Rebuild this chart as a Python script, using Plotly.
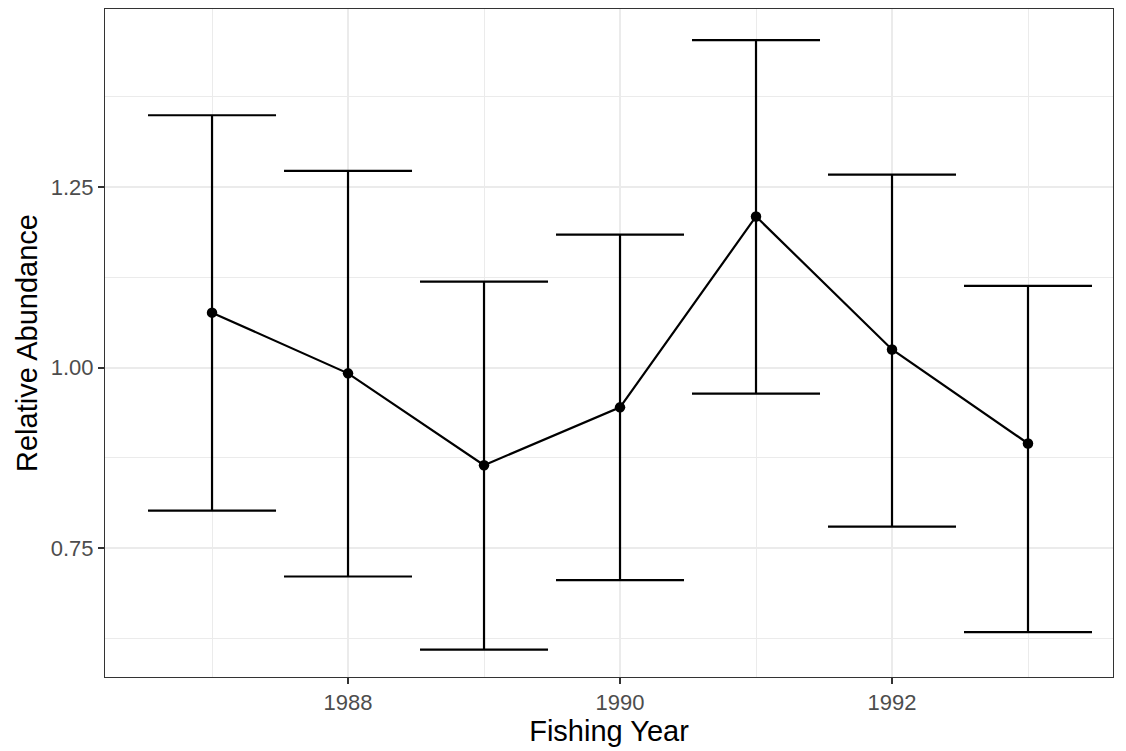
import plotly.graph_objects as go

years = [1987, 1988, 1989, 1990, 1991, 1992, 1993]
abundance = [1.076, 0.992, 0.865, 0.945, 1.209, 1.025, 0.895]
upper = [1.349, 1.272, 1.119, 1.184, 1.453, 1.267, 1.113]
lower = [0.802, 0.711, 0.610, 0.706, 0.964, 0.780, 0.634]

err_plus = [u - a for u, a in zip(upper, abundance)]
err_minus = [a - l for a, l in zip(abundance, lower)]

fig = go.Figure()
fig.add_trace(go.Scatter(
    x=years, y=abundance, mode="lines+markers",
    line=dict(color="black", width=2.2),
    marker=dict(color="black", size=10.5),
    error_y=dict(type="data", array=err_plus, arrayminus=err_minus,
                 color="black", thickness=2.2, width=64, symmetric=False),
    showlegend=False,
))

fig.update_layout(
    width=1118, height=743,
    margin=dict(l=97, r=13, t=1, b=74),
    plot_bgcolor="white", paper_bgcolor="white",
    font=dict(family="Liberation Sans, Arial, sans-serif"),
)
fig.update_xaxes(
    range=[1986.213, 1993.625],
    tickvals=[1988, 1990, 1992], ticktext=["1988", "1990", "1992"],
    showgrid=True, gridcolor="#ebebeb", gridwidth=1.5,
    minor=dict(tickvals=[1987, 1989, 1991, 1993], showgrid=True, gridcolor="#ebebeb", gridwidth=0.8),
    ticks="outside", ticklen=6, tickwidth=1.5, tickcolor="#333333",
    tickfont=dict(size=22, color="#4d4d4d"),
    title=dict(text="Fishing Year", font=dict(size=29, color="black"), standoff=3),
    showline=True, linecolor="#333333", linewidth=1, mirror=True, zeroline=False,
)
fig.update_yaxes(
    range=[0.572, 1.496],
    tickvals=[0.75, 1.0, 1.25], ticktext=["0.75", "1.00", "1.25"],
    showgrid=True, gridcolor="#ebebeb", gridwidth=1.5,
    minor=dict(tickvals=[0.625, 0.875, 1.125, 1.375], showgrid=True, gridcolor="#ebebeb", gridwidth=0.8),
    ticks="outside", ticklen=6, tickwidth=1.5, tickcolor="#333333",
    tickfont=dict(size=22, color="#4d4d4d"),
    title=dict(text="Relative Abundance", font=dict(size=29, color="black"), standoff=4),
    showline=True, linecolor="#333333", linewidth=1, mirror=True, zeroline=False,
)

fig.write_html("out.html")
